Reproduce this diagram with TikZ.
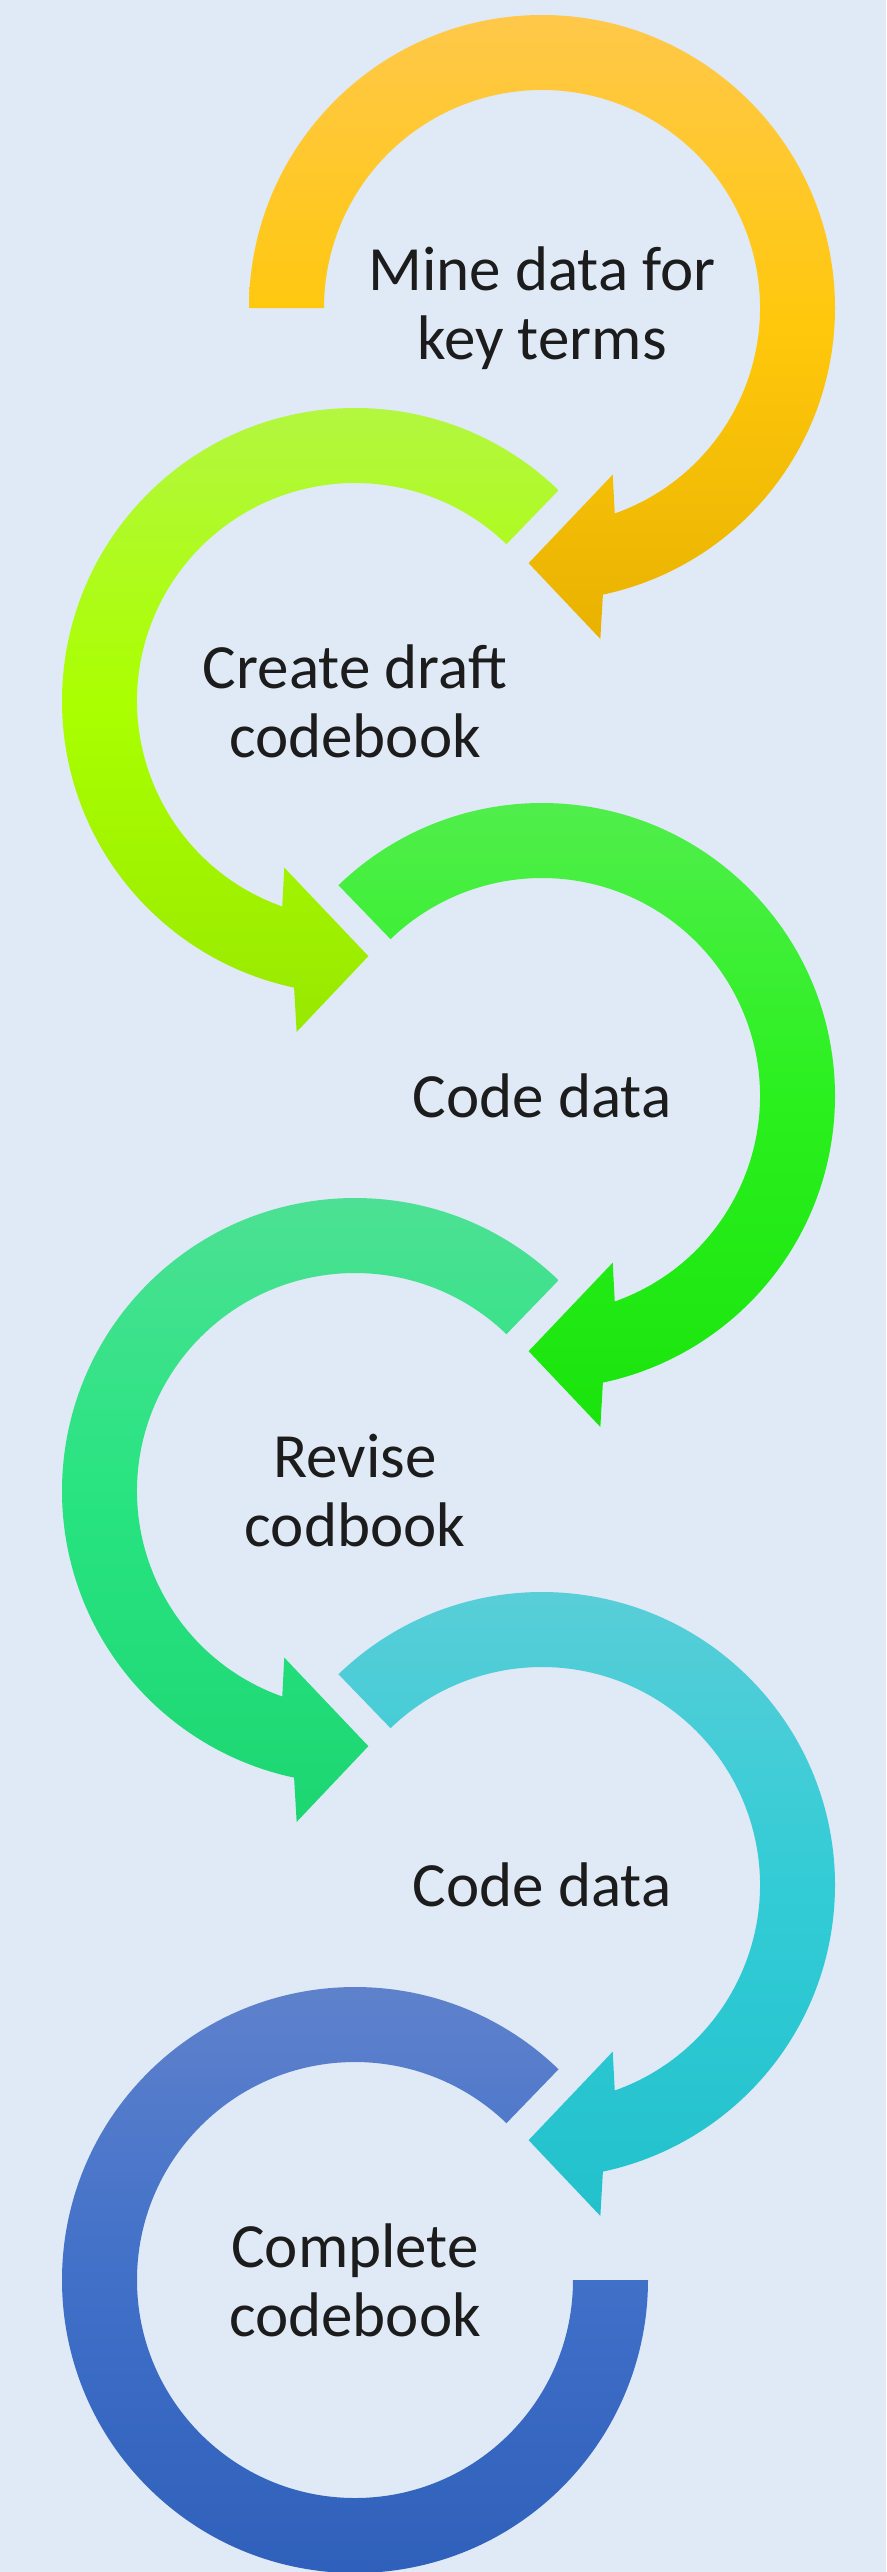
\documentclass[tikz,border=0pt]{standalone}
\usepackage{fontspec}
\setmainfont{Carlito}
\usepackage{tikz}
\definecolor{bgBlue}{RGB}{223,234,246}
\definecolor{txtDark}{RGB}{28,28,28}
\definecolor{orTop}{RGB}{255,200,74}
\definecolor{orMid}{RGB}{255,200,12}
\definecolor{orBot}{RGB}{233,178,0}
\definecolor{limeTop}{RGB}{180,246,70}
\definecolor{limeMid}{RGB}{170,255,0}
\definecolor{limeBot}{RGB}{152,232,0}
\definecolor{grTop}{RGB}{84,238,80}
\definecolor{grMid}{RGB}{42,240,30}
\definecolor{grBot}{RGB}{26,228,12}
\definecolor{tealTop}{RGB}{80,224,150}
\definecolor{tealMid}{RGB}{40,228,128}
\definecolor{tealBot}{RGB}{28,214,114}
\definecolor{cyTop}{RGB}{92,206,216}
\definecolor{cyMid}{RGB}{50,204,214}
\definecolor{cyBot}{RGB}{34,193,204}
\definecolor{blTop}{RGB}{98,131,205}
\definecolor{blMid}{RGB}{64,112,200}
\definecolor{blBot}{RGB}{45,94,185}

\begin{document}
\begin{tikzpicture}[x=1pt, y=1pt]%
  \tikzset{ring/.style={draw=none}}
  \tikzstyle{every node}=[draw=none, text=txtDark, align=center, inner sep=0pt, font=\fontsize{63}{69}\selectfont]

  \path[use as bounding box] (0,0) rectangle (886,-2572);
  \fill[bgBlue] (0,0) rectangle (886,-2572);

  \coordinate (c1) at (542,-308);
  \coordinate (c2) at (355,-701);
  \coordinate (c3) at (542,-1096);
  \coordinate (c4) at (355,-1491);
  \coordinate (c5) at (542,-1885);
  \coordinate (c6) at (355,-2280);

  % clockwise loops
  \shade[ring, top color=orTop, bottom color=orBot, middle color=orMid, shift={(c1)}] (180:293) arc[start angle=180, end angle=-78, radius=293] -- (-80:336) -- (-93:255.5) -- (-67:181) -- (-70.5:218) arc[start angle=-70.5, end angle=180, radius=218] -- cycle;
  \shade[ring, top color=grTop, bottom color=grBot, middle color=grMid, shift={(c3)}] (134:293) arc[start angle=134, end angle=-78, radius=293] -- (-80:336) -- (-93:255.5) -- (-67:181) -- (-70.5:218) arc[start angle=-70.5, end angle=134, radius=218] -- cycle;
  \shade[ring, top color=cyTop, bottom color=cyBot, middle color=cyMid, shift={(c5)}] (134:293) arc[start angle=134, end angle=-78, radius=293] -- (-80:336) -- (-93:255.5) -- (-67:181) -- (-70.5:218) arc[start angle=-70.5, end angle=134, radius=218] -- cycle;

  % counter-clockwise loops
  \shade[ring, top color=limeTop, bottom color=limeBot, middle color=limeMid, shift={(c2)}] (46:293) arc[start angle=46, end angle=258, radius=293] -- (260:336) -- (273:255.5) -- (247:181) -- (250.5:218) arc[start angle=250.5, end angle=46, radius=218] -- cycle;
  \shade[ring, top color=tealTop, bottom color=tealBot, middle color=tealMid, shift={(c4)}] (46:293) arc[start angle=46, end angle=258, radius=293] -- (260:336) -- (273:255.5) -- (247:181) -- (250.5:218) arc[start angle=250.5, end angle=46, radius=218] -- cycle;
  \shade[ring, top color=blTop, bottom color=blBot, middle color=blMid, shift={(c6)}] (46:293) arc[start angle=46, end angle=360, radius=293] -- (0:218) arc[start angle=360, end angle=46, radius=218] -- cycle;

  \node at (c1) (mine) {Mine data for\\key terms};
  \node at (c2) (draft) {Create draft\\codebook};
  \node at (c3) (code1) {Code data};
  \node at (c4) (revise) {Revise\\codbook};
  \node at (c5) (code2) {Code data};
  \node at (c6) (complete) {Complete\\codebook};
\end{tikzpicture}
\end{document}
